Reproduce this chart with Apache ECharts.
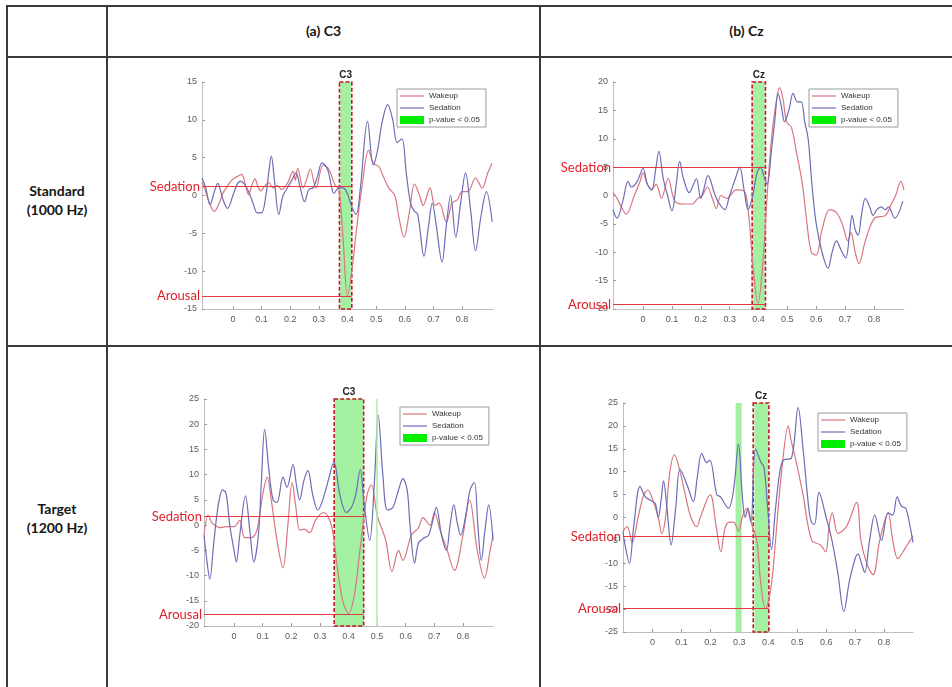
<!DOCTYPE html>
<html><head><meta charset="utf-8">
<script src="https://cdn.jsdelivr.net/npm/echarts@6/dist/echarts.min.js"></script>
<style>
body{margin:0;background:#fff;}
#wrap{position:relative;width:952px;height:687px;overflow:hidden;font-family:Lato,'Open Sans',sans-serif;}
.ln{position:absolute;background:#3a3a3a;}
.cell{position:absolute;font-weight:bold;font-size:14px;color:#151515;text-align:center;line-height:19px;}
#chart{position:absolute;left:0;top:0;width:952px;height:687px;}
</style></head>
<body><div id="wrap">
<div class="ln" style="left:7px;top:5px;width:945px;height:2px"></div>
<div class="ln" style="left:7px;top:56px;width:945px;height:2px"></div>
<div class="ln" style="left:7px;top:345px;width:945px;height:2px"></div>
<div class="ln" style="left:6px;top:5px;width:2px;height:682px"></div>
<div class="ln" style="left:106px;top:5px;width:2px;height:682px"></div>
<div class="ln" style="left:539px;top:5px;width:2px;height:682px"></div>
<div class="cell" id="h0" style="left:108px;top:21px;width:431px"></div>
<div class="cell" id="h1" style="left:541px;top:21px;width:411px"></div>
<div class="cell" id="r0" style="left:8px;top:181px;width:98px"></div>
<div class="cell" id="r1" style="left:8px;top:499px;width:98px"></div>
<div id="chart"></div>
</div>
<script>
// ---- text ----
const colHeaders = ['(a) C3', '(b) Cz'];
const rowHeaders = [['Standard', '(1000 Hz)'], ['Target', '(1200 Hz)']];
const panelTitles = ['C3', 'Cz', 'C3', 'Cz'];
const xTicks = [0, 0.1, 0.2, 0.3, 0.4, 0.5, 0.6, 0.7, 0.8];
const legendNames = ['Wakeup', 'Sedation', 'p-value < 0.05'];
const levelNames = ['Sedation', 'Arousal'];

// ---- (a) C3, Standard ----
const c3StdWakeup = [[-0.108,1.8],[-0.095,0.5],[-0.08,-1.2],[-0.065,-2.1],[-0.05,-1.2],[-0.035,0.3],[-0.02,1.2],[-0.005,2],[0.015,2.5],[0.03,2.8],[0.045,1.2],[0.055,0.1],[0.065,1.2],[0.077,2.2],[0.087,1.2],[0.097,0.6],[0.11,1.2],[0.125,1.7],[0.14,1],[0.155,1.3],[0.17,0.8],[0.19,1.6],[0.21,3.2],[0.218,2],[0.226,3.6],[0.245,1],[0.258,2.2],[0.27,3.5],[0.29,1],[0.315,4],[0.335,3.5],[0.355,1.5],[0.37,0.8],[0.385,-6],[0.4,-13.3],[0.415,-10],[0.43,-5],[0.45,1],[0.474,6],[0.49,4.3],[0.51,3.8],[0.525,2.5],[0.544,1],[0.565,0],[0.58,-3],[0.597,-5.5],[0.615,-2.5],[0.634,1.5],[0.65,0.2],[0.664,-1.3],[0.688,1],[0.705,-1.3],[0.72,-1],[0.745,-3.5],[0.765,-1],[0.785,-0.5],[0.8,0.5],[0.82,0.5],[0.847,2.3],[0.87,1],[0.89,3],[0.905,4.3]];
const c3StdSedation = [[-0.108,2.3],[-0.095,1],[-0.08,-1.2],[-0.065,0.5],[-0.053,1.6],[-0.035,-0.5],[-0.019,-1.7],[0,0],[0.015,1.5],[0.026,1.9],[0.04,1.5],[0.055,0.5],[0.07,-1],[0.085,-2.3],[0.1,-2.3],[0.115,0],[0.125,3],[0.134,5.2],[0.145,2],[0.16,-2.5],[0.175,0],[0.19,1],[0.205,2],[0.22,3],[0.235,1],[0.25,-0.8],[0.265,0.8],[0.28,1],[0.295,2.5],[0.311,4.3],[0.33,3.5],[0.345,1],[0.352,0.3],[0.37,1],[0.385,1],[0.4,0.2],[0.415,-1.5],[0.43,-2.5],[0.445,1],[0.47,9.8],[0.49,4],[0.505,6],[0.52,9.5],[0.54,12],[0.558,10],[0.573,7],[0.59,7.5],[0.605,3],[0.62,-1],[0.632,-2],[0.645,-2.5],[0.667,-8],[0.683,-4],[0.696,-1],[0.71,-4],[0.73,-8.8],[0.745,-4],[0.76,0],[0.778,-5.5],[0.795,-1],[0.812,3],[0.83,-2],[0.847,-7.3],[0.865,-3],[0.885,0.5],[0.905,-3.5]];
const c3StdSig = [[0.375, 0.412]];
const c3StdBox = [0.372, 0.415];
const c3StdLevels = [1.2, -13.3];

// ---- (b) Cz, Standard ----
const czStdWakeup = [[-0.104,0.5],[-0.09,-0.5],[-0.075,-2],[-0.058,-3.3],[-0.03,0],[-0.01,2.5],[0,4],[0.015,2],[0.03,1],[0.045,2],[0.064,-0.5],[0.087,3],[0.11,-1],[0.14,-1.5],[0.17,-1.5],[0.19,-0.5],[0.205,0],[0.223,1.5],[0.24,-0.5],[0.254,-2.3],[0.27,0],[0.29,-0.5],[0.323,1],[0.35,0.8],[0.365,-3],[0.38,-12],[0.398,-19],[0.415,-12],[0.43,0],[0.445,10],[0.46,16],[0.473,19],[0.485,17],[0.497,13],[0.514,12],[0.53,8],[0.552,2],[0.568,-5],[0.583,-10],[0.6,-10.5],[0.62,-6],[0.647,-2.5],[0.67,-3],[0.69,-5],[0.71,-8],[0.72,-6.5],[0.735,-10],[0.748,-12],[0.77,-8],[0.802,-4],[0.84,-3.5],[0.86,-1.5],[0.875,0],[0.893,2.5],[0.904,1]];
const czStdSedation = [[-0.104,-2.5],[-0.09,-4],[-0.07,-1],[-0.052,2.5],[-0.04,1.5],[-0.02,2.5],[0,4.8],[0.015,2],[0.03,1],[0.045,5],[0.055,7.8],[0.07,3],[0.085,0],[0.1,-2.7],[0.115,2],[0.127,6],[0.14,3],[0.16,0.5],[0.175,2],[0.185,3],[0.2,-0.5],[0.21,1],[0.225,3.5],[0.25,0],[0.265,-1.5],[0.283,-2.5],[0.3,0],[0.32,3],[0.335,5],[0.35,1],[0.364,-2.5],[0.38,0],[0.395,4],[0.407,5],[0.418,3.5],[0.43,2],[0.445,8],[0.456,13],[0.468,18],[0.48,15.5],[0.49,13],[0.505,15],[0.52,18],[0.535,16.5],[0.548,16.5],[0.56,13],[0.572,10],[0.585,2],[0.6,-5],[0.62,-10],[0.641,-12.8],[0.655,-10],[0.67,-8],[0.685,-9.5],[0.702,-11],[0.715,-7],[0.724,-3.5],[0.735,-6],[0.745,-7],[0.758,-3],[0.77,-0.5],[0.785,-2],[0.797,-3.5],[0.81,-2.5],[0.825,-2],[0.84,-2.5],[0.85,-2],[0.872,-4],[0.9,-1]];
const czStdSig = [[0.381, 0.421]];
const czStdBox = [0.378, 0.424];
const czStdLevels = [4.9, -19.2];

// ---- (a) C3, Target ----
const c3TgtWakeup = [[-0.105,-2],[-0.09,2],[-0.078,0.5],[-0.068,0],[-0.05,-0.5],[-0.025,-0.3],[0,-0.3],[0.02,1],[0.037,-2.5],[0.06,-2.5],[0.08,-1],[0.1,6],[0.116,9.5],[0.13,5],[0.15,-3],[0.171,-8.5],[0.188,0],[0.203,8.5],[0.215,4],[0.23,-1],[0.245,-0.8],[0.264,-1.5],[0.285,1],[0.313,2.5],[0.34,0],[0.36,-8],[0.38,-15],[0.4,-17.5],[0.42,-14],[0.44,-5],[0.465,6],[0.48,8],[0.5,2],[0.53,-3],[0.552,-9.2],[0.575,-5],[0.59,-7],[0.62,-2],[0.645,-0.5],[0.66,1.5],[0.685,0],[0.7,2.5],[0.72,-1],[0.745,-5],[0.77,-9],[0.8,-2],[0.823,5],[0.85,-5],[0.875,-10.5],[0.895,-5],[0.905,-2]];
const c3TgtSedation = [[-0.105,-2],[-0.095,-7],[-0.085,-10.7],[-0.07,-3],[-0.055,4],[-0.04,7],[-0.028,6.3],[-0.015,0],[0,-5],[0.008,-7.3],[0.02,-2],[0.04,5.8],[0.055,-1],[0.069,-7.3],[0.085,-2],[0.095,8],[0.107,19],[0.12,12],[0.136,5],[0.15,4.5],[0.171,9.5],[0.185,7.5],[0.206,12],[0.218,8],[0.229,5],[0.245,9],[0.258,10.8],[0.275,6],[0.293,3],[0.31,5],[0.33,9],[0.349,12.5],[0.37,6],[0.392,2.5],[0.41,3.5],[0.425,6],[0.441,11],[0.455,4],[0.474,-3],[0.49,8],[0.504,21.8],[0.52,10],[0.536,3],[0.555,3.5],[0.575,7],[0.59,9.2],[0.605,7],[0.615,0],[0.631,-7.5],[0.645,-3.5],[0.665,-2.5],[0.68,-2],[0.695,1],[0.707,3.5],[0.725,-2],[0.742,-5],[0.755,0],[0.768,4],[0.78,0.5],[0.792,-2],[0.81,2],[0.825,7],[0.84,8.5],[0.852,0],[0.864,-7],[0.877,-1],[0.89,4],[0.905,-3]];
const c3TgtSig = [[0.352, 0.451]];
const c3TgtSigLine = [0.5];
const c3TgtBox = [0.35, 0.453];
const c3TgtLevels = [1.7, -17.7];

// ---- (b) Cz, Target ----
const czTgtWakeup = [[-0.102,-3],[-0.088,-2],[-0.07,-5.5],[-0.05,0],[-0.03,5],[-0.016,6],[0,4],[0.02,0],[0.032,-3.5],[0.045,0],[0.06,10],[0.076,13.7],[0.095,10],[0.113,5],[0.133,0],[0.153,-2],[0.165,0],[0.199,5],[0.22,-2],[0.236,-7.5],[0.25,-2.5],[0.265,-1],[0.28,-1],[0.297,-3],[0.31,0],[0.325,2],[0.34,-1],[0.36,-5],[0.375,-15],[0.39,-20],[0.41,-15],[0.425,-5],[0.446,10],[0.469,20],[0.478,17],[0.49,14],[0.52,5],[0.55,-5],[0.58,-6],[0.598,-7.5],[0.61,-2],[0.621,1],[0.641,-3.5],[0.67,-2],[0.705,3.3],[0.72,-5],[0.74,-10],[0.762,-12.5],[0.785,-5],[0.814,1],[0.83,-5],[0.848,-9],[0.87,-7],[0.89,-5],[0.9,-4]];
const czTgtSedation = [[-0.102,-3],[-0.095,-6],[-0.08,-10],[-0.065,-2],[-0.043,6.8],[-0.025,4.5],[0,3.5],[0.01,3],[0.02,0],[0.03,4],[0.038,8],[0.05,2],[0.064,-6],[0.08,2],[0.095,10.5],[0.12,7],[0.141,3.5],[0.155,9],[0.17,14],[0.187,12],[0.198,12.5],[0.222,5],[0.235,4.5],[0.262,2],[0.28,6],[0.297,16],[0.31,5],[0.32,0],[0.33,2],[0.34,-1],[0.356,15],[0.375,12],[0.385,11],[0.398,2],[0.411,-7],[0.425,2],[0.44,10],[0.452,12.5],[0.48,13],[0.503,24],[0.52,15],[0.54,2],[0.549,-1],[0.56,-1.5],[0.575,5.5],[0.6,0],[0.62,-5],[0.64,-12],[0.661,-20.5],[0.68,-14],[0.7,-9],[0.71,-8],[0.722,-10],[0.733,-12],[0.75,-5],[0.768,0.5],[0.791,-5],[0.814,1],[0.83,0.5],[0.845,4.5],[0.86,2.5],[0.875,2],[0.89,-2],[0.9,-5.5]];
const czTgtSig = [[0.287, 0.308], [0.352, 0.40]];
const czTgtBox = [0.348, 0.402];
const czTgtLevels = [-4.2, -19.9];

// ---- table text ----
document.getElementById('h0').textContent = colHeaders[0];
document.getElementById('h1').textContent = colHeaders[1];
document.getElementById('r0').innerHTML = rowHeaders[0].join('<br>');
document.getElementById('r1').innerHTML = rowHeaders[1].join('<br>');

// ---- layout (styling only) ----
const layouts = [
  {grid:{left:202, top:82, width:291, height:227}, x:[-0.108,0.908], y:[-15,15], legend:{left:397, top:89}},
  {grid:{left:613, top:82, width:291, height:227}, x:[-0.104,0.904], y:[-20,20], legend:{left:809, top:89}},
  {grid:{left:204, top:399, width:289, height:227}, x:[-0.105,0.905], y:[-20,25], legend:{left:400, top:407}},
  {grid:{left:623, top:403, width:290, height:229}, x:[-0.102,0.9], y:[-25,25], legend:{left:818, top:413}}
];
const panels = [
  {w:c3StdWakeup, s:c3StdSedation, sig:c3StdSig, box:c3StdBox, lv:c3StdLevels, lines:[]},
  {w:czStdWakeup, s:czStdSedation, sig:czStdSig, box:czStdBox, lv:czStdLevels, lines:[]},
  {w:c3TgtWakeup, s:c3TgtSedation, sig:c3TgtSig, box:c3TgtBox, lv:c3TgtLevels, lines:c3TgtSigLine},
  {w:czTgtWakeup, s:czTgtSedation, sig:czTgtSig, box:czTgtBox, lv:czTgtLevels, lines:[]}
];

const WAKE = '#d9767f', SED = '#6d6db6', GREEN = '#a3f0a3', RED = '#e23a3f';
const tickFont = {fontSize:9, color:'#5a5a5a', fontFamily:'Liberation Sans'};
const LINE_ICON = 'path://M0 0H24V1.2H0Z';
const grids = [], xAxes = [], yAxes = [], series = [], legends = [];

panels.forEach((p, i) => {
  const L = layouts[i];
  grids.push(L.grid);
  xAxes.push({type:'value', gridIndex:i, min:L.x[0], max:L.x[1],
    axisLine:{onZero:false, lineStyle:{color:'#bdbdbd'}},
    axisTick:{inside:true, length:3, customValues:xTicks, lineStyle:{color:'#9a9a9a'}},
    axisLabel:Object.assign({customValues:xTicks, margin:6, formatter:v => String(+v.toFixed(1))}, tickFont),
    splitLine:{show:false}});
  yAxes.push({type:'value', gridIndex:i, min:L.y[0], max:L.y[1], interval:5,
    axisLine:{show:true, onZero:false, lineStyle:{color:'#bdbdbd'}},
    axisTick:{show:true, inside:true, length:3, lineStyle:{color:'#9a9a9a'}},
    axisLabel:Object.assign({margin:5}, tickFont),
    splitLine:{show:false}});

  const areas = p.sig.map(r => [{xAxis:r[0], yAxis:L.y[1], itemStyle:{color:GREEN}}, {xAxis:r[1], yAxis:L.y[0]}]);
  areas.push([{xAxis:p.box[0], yAxis:L.y[1],
      itemStyle:{color:'rgba(0,0,0,0)', borderColor:'#c0171d', borderWidth:1.6, borderType:[4,2]},
      label:{show:true, position:'top', distance:1, formatter:panelTitles[i], color:'#222', fontWeight:'bold', fontSize:10, fontFamily:'Liberation Sans'}},
    {xAxis:p.box[1], yAxis:L.y[0]}]);

  const mlines = p.lv.map((v, k) => [
    {coord:[L.x[0], v], label:{show:true, position:'start', distance:2, formatter:levelNames[k], color:'#e0202a', fontSize:13, fontFamily:'Lato'}},
    {coord:[p.box[1], v]}]);
  p.lines.forEach(x => mlines.push({xAxis:x, lineStyle:{color:GREEN, width:1.5}, label:{show:false}}));

  series.push({name:legendNames[0], type:'line', xAxisIndex:i, yAxisIndex:i, data:p.w,
    showSymbol:false, symbol:'none', smooth:0.35, lineStyle:{color:WAKE, width:1.2}, itemStyle:{color:WAKE}, z:3,
    markArea:{silent:true, data:areas},
    markLine:{silent:true, symbol:['none','none'], lineStyle:{color:RED, width:1, type:'solid'}, data:mlines}});
  series.push({name:legendNames[1], type:'line', xAxisIndex:i, yAxisIndex:i, data:p.s,
    showSymbol:false, symbol:'none', smooth:0.35, lineStyle:{color:SED, width:1.2}, itemStyle:{color:SED}, z:4});
  series.push({name:legendNames[2], type:'bar', xAxisIndex:i, yAxisIndex:i, data:[], itemStyle:{color:'#00ee00'}});

  legends.push({left:L.legend.left, top:L.legend.top, orient:'vertical', selectedMode:false,
    itemGap:4, itemWidth:24, itemHeight:8, padding:[3,6,3,3],
    borderColor:'#9a9a9a', borderWidth:1, backgroundColor:'#fff',
    textStyle:{fontSize:8, color:'#333', fontFamily:'Liberation Sans'},
    data:[{name:legendNames[0], icon:LINE_ICON}, {name:legendNames[1], icon:LINE_ICON}, {name:legendNames[2], icon:'rect'}]});
});

const chart = echarts.init(document.getElementById('chart'), null, {renderer:'canvas'});
chart.setOption({animation:false, backgroundColor:'transparent',
  grid:grids, xAxis:xAxes, yAxis:yAxes, series:series, legend:legends});
</script>
</body></html>
